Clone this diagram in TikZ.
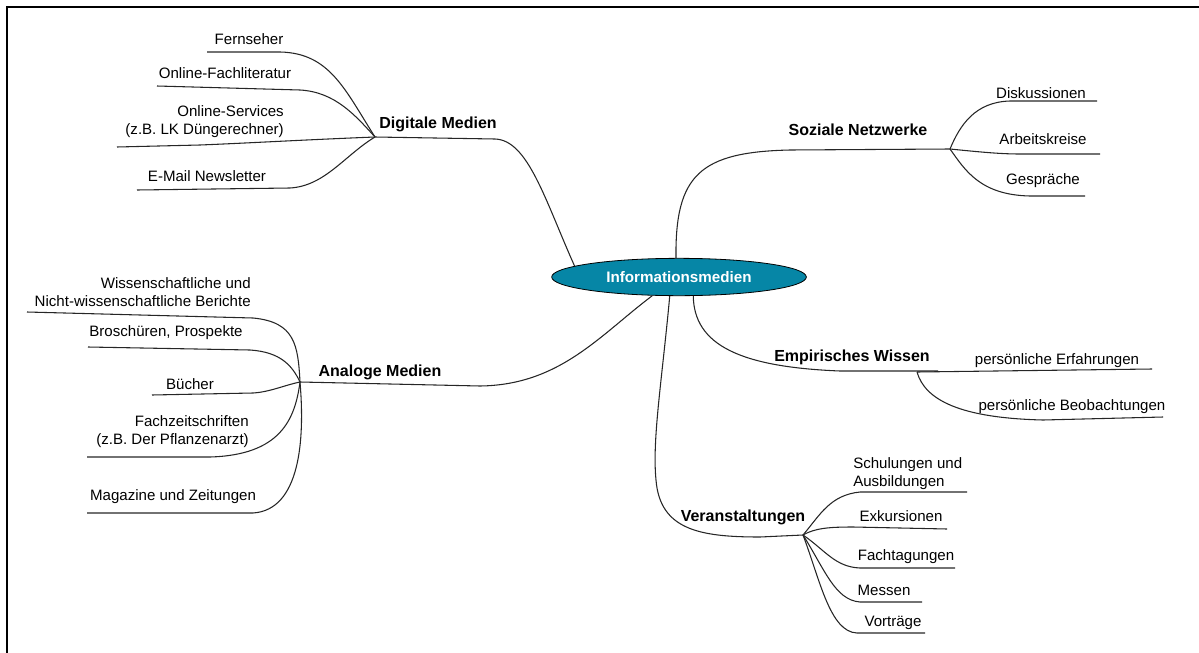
\documentclass[tikz,border=0pt]{standalone}
\usepackage{fontspec}
\setmainfont{Liberation Sans}
\usetikzlibrary{shapes.geometric}
\definecolor{infoteal}{RGB}{6,134,166}

\begin{document}
\begin{tikzpicture}[x=0.75pt, y=-0.75pt,
    leaf/.style={inner sep=0pt, font=\fontsize{11.3}{13.5}\selectfont},
    topic/.style={inner sep=0pt, font=\fontsize{12}{14}\selectfont\bfseries},
    branch/.style={line width=0.8pt, black!85}]
    \useasboundingbox (0,0) rectangle (1199,653);

    % Frame
    \draw[line width=1.2pt] (7,653) -- (7,7) -- (1199,7);

    % Centre
    \node[ellipse, draw=black, line width=0.6pt, fill=infoteal, minimum width=191pt, minimum height=28pt,
          inner sep=0pt, text=white, font=\fontsize{11.4}{13.5}\selectfont\bfseries] (info) at (679,277) {Informationsmedien};

    % Digitale Medien
    \node[topic] (digital) at (438,124) {Digitale Medien};
    \coordinate (dm) at (375,137);
    \draw[branch] (info.174) .. controls (545,200) and (528,140) .. (495,139) -- (dm);
    \node[leaf] (fernseher) at (249,39) {Fernseher};
    \node[leaf] (fachlit) at (225,73) {Online-Fachliteratur};
    \node[leaf, align=right, anchor=east] (services) at (284,122) {Online-Services\\(z.B. LK Düngerechner)};
    \node[leaf] (newsletter) at (207,176) {E-Mail Newsletter};
    \draw[branch] (dm) .. controls (345,90) and (330,53) .. (280,52) -- (207,52);
    \draw[branch] (dm) .. controls (355,115) and (335,92) .. (300,90) -- (157,86);
    \draw[branch] (dm) .. controls (300,140) and (250,143) .. (200,145) -- (117,147);
    \draw[branch] (dm) .. controls (345,155) and (325,186) .. (290,188) -- (137,190);

    % Soziale Netzwerke
    \node[topic] (sozial) at (858,130) {Soziale Netzwerke};
    \coordinate (sn) at (950,149);
    \draw[branch] (info.99) .. controls (675,175) and (700,152) .. (790,150) -- (sn);
    \node[leaf] (diskussion) at (1041,93) {Diskussionen};
    \node[leaf] (arbeitskreis) at (1043,139) {Arbeitskreise};
    \node[leaf] (gespraech) at (1043,181) {Gespräche};
    \draw[branch] (sn) .. controls (960,125) and (975,102) .. (1010,101) -- (1097,101);
    \draw[branch] (sn) .. controls (980,152) and (1000,154) .. (1020,154) -- (1100,154);
    \draw[branch] (sn) .. controls (965,170) and (980,195) .. (1030,196) -- (1085,196);

    % Empirisches Wissen
    \node[topic] (empirie) at (852,357) {Empirisches Wissen};
    \coordinate (ew) at (917,372);
    \coordinate (ewend) at (938,371);
    \draw[branch] (info.307) .. controls (694,345) and (740,367) .. (840,371) -- (ewend);
    \node[leaf] (erfahrung) at (1057,361) {persönliche Erfahrungen};
    \node[leaf] (beobachtung) at (1072,407) {persönliche Beobachtungen};
    \draw[branch] (ew) -- (1152,369);
    \draw[branch] (ew) .. controls (925,400) and (960,418) .. (1043,420) -- (1163,417);

    % Veranstaltungen
    \node[topic] (veranst) at (743,517) {Veranstaltungen};
    \coordinate (va) at (803,535);
    \draw[branch] (info.244) .. controls (662,380) and (652,440) .. (656,480)
        .. controls (660,530) and (700,537) .. (760,537) -- (va);
    \node[leaf, align=left, anchor=west] (schulung) at (853,474) {Schulungen und\\Ausbildungen};
    \node[leaf] (exkursion) at (901,516) {Exkursionen};
    \node[leaf] (fachtagung) at (906,557) {Fachtagungen};
    \node[leaf] (messen) at (884,590) {Messen};
    \node[leaf] (vortrag) at (893,623) {Vorträge};
    \draw[branch] (va) .. controls (820,515) and (830,495) .. (860,492) -- (967,492);
    \draw[branch] (va) .. controls (815,528) and (830,527) .. (853,527) -- (947,529);
    \draw[branch] (va) .. controls (825,550) and (835,567) .. (860,568) -- (955,568);
    \draw[branch] (va) .. controls (825,570) and (835,600) .. (860,602) -- (922,602);
    \draw[branch] (va) .. controls (820,580) and (830,632) .. (857,633) -- (925,633);

    % Analoge Medien
    \node[topic] (analog) at (380,372) {Analoge Medien};
    \coordinate (am) at (300,382);
    \draw[branch] (info.215) .. controls (600,335) and (560,385) .. (480,386) -- (am);
    \node[leaf, align=right, anchor=east] (berichte) at (251,292) {Wissenschaftliche und\\Nicht-wissenschaftliche Berichte};
    \node[leaf] (broschuere) at (166,333) {Broschüren, Prospekte};
    \node[leaf] (buecher) at (190,384) {Bücher};
    \node[leaf, align=right, anchor=east] (fachzeit) at (249,432) {Fachzeitschriften\\(z.B. Der Pflanzenarzt)};
    \node[leaf] (magazin) at (173,497) {Magazine und Zeitungen};
    \draw[branch] (am) .. controls (298,345) and (295,322) .. (253,318) -- (27,312);
    \draw[branch] (am) .. controls (292,365) and (280,352) .. (250,350) -- (88,347);
    \draw[branch] (am) .. controls (285,385) and (270,392) .. (253,393) -- (152,395);
    \draw[branch] (am) .. controls (295,420) and (280,455) .. (210,457) -- (87,457);
    \draw[branch] (am) .. controls (305,440) and (300,510) .. (253,513) -- (87,513);
\end{tikzpicture}
\end{document}
